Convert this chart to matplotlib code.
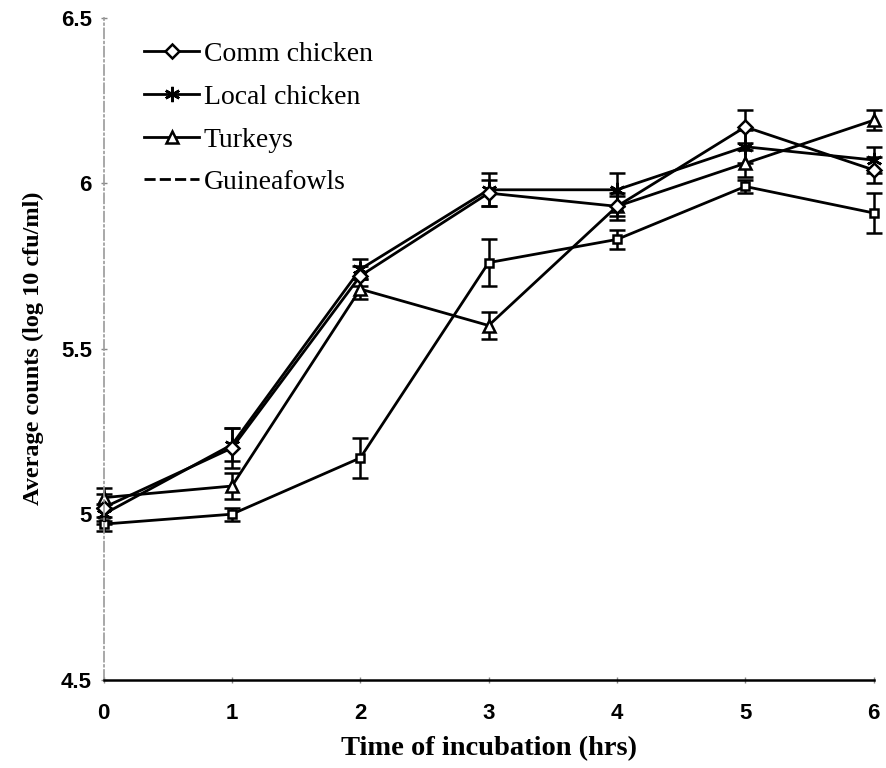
import matplotlib.pyplot as plt
from matplotlib.lines import Line2D
import numpy as np

# incubation time (hrs)
hours = [0, 1, 2, 3, 4, 5, 6]

# mean counts (log10 cfu/ml) and error bar half-widths per flock
comm_chicken = [5.02, 5.20, 5.72, 5.97, 5.93, 6.17, 6.04]
comm_err = [0.04, 0.06, 0.03, 0.04, 0.04, 0.05, 0.04]

local_chicken = [5.00, 5.21, 5.74, 5.98, 5.98, 6.11, 6.07]
local_err = [0.03, 0.05, 0.03, 0.05, 0.05, 0.05, 0.04]

turkeys = [5.05, 5.085, 5.68, 5.57, 5.93, 6.06, 6.19]
turkey_err = [0.03, 0.04, 0.03, 0.04, 0.03, 0.04, 0.03]

guineafowls = [4.97, 5.00, 5.17, 5.76, 5.83, 5.99, 5.91]
guinea_err = [0.02, 0.02, 0.06, 0.07, 0.03, 0.02, 0.06]

labels = ["Comm chicken", "Local chicken", "Turkeys", "Guineafowls"]

fig = plt.figure(figsize=(8.86, 7.68), dpi=100)
ax = fig.add_axes([0.117, 0.115, 0.869, 0.862])

series = [
    (guineafowls, guinea_err, "s", 6),
    (turkeys, turkey_err, "^", 8),
    (local_chicken, local_err, (6, 2, 0), 11),
    (comm_chicken, comm_err, "D", 7),
]
for vals, err, mk, ms in series:
    ax.errorbar(hours, vals, yerr=err, color="black", lw=2.0,
                marker=mk, ms=ms, mfc="white", mec="black", mew=1.8,
                capsize=6, capthick=2.0, elinewidth=1.8, clip_on=False)

ax.set_xlim(0, 6)
ax.set_ylim(4.5, 6.5)
ax.set_xticks(hours)
ax.set_yticks([4.5, 5, 5.5, 6, 6.5])
ax.set_yticklabels(["4.5", "5", "5.5", "6", "6.5"])

for lab in ax.get_xticklabels() + ax.get_yticklabels():
    lab.set_fontfamily("Liberation Sans")
    lab.set_fontweight("bold")
    lab.set_fontsize(16)

ax.tick_params(axis="both", direction="inout", length=5, width=1, color="#888888")
ax.tick_params(axis="x", pad=14)
ax.tick_params(axis="y", pad=6)

ax.spines["top"].set_visible(False)
ax.spines["right"].set_visible(False)
ax.spines["left"].set_color("#999999")
ax.spines["left"].set_linestyle((0, (6, 2, 1, 2)))
ax.spines["left"].set_linewidth(1.2)
ax.spines["bottom"].set_linewidth(1.8)

ax.set_xlabel("Time of incubation (hrs)", fontfamily="Liberation Serif",
              fontweight="bold", fontsize=20.5, labelpad=9)
ax.set_ylabel("Average counts (log 10 cfu/ml)", fontfamily="Liberation Serif",
              fontweight="bold", fontsize=17.5, labelpad=12)

# legend handles: three marker lines plus a plain dashed line
handles = [
    Line2D([], [], color="black", lw=2, marker="D", ms=7, mfc="white", mew=1.8),
    Line2D([], [], color="black", lw=2, marker=(6, 2, 0), ms=11, mew=1.8),
    Line2D([], [], color="black", lw=2, marker="^", ms=8, mfc="white", mew=1.8),
    Line2D([], [], color="black", lw=2, linestyle=(0, (4, 1.5))),
]
ax.legend(handles, labels, loc="upper left", bbox_to_anchor=(0.027, 0.993),
          frameon=False, prop={"family": "Liberation Serif", "size": 20},
          handlelength=2.0, handletextpad=0.15, labelspacing=0.62,
          borderaxespad=0.3)

fig.savefig("out.png", dpi=100)
